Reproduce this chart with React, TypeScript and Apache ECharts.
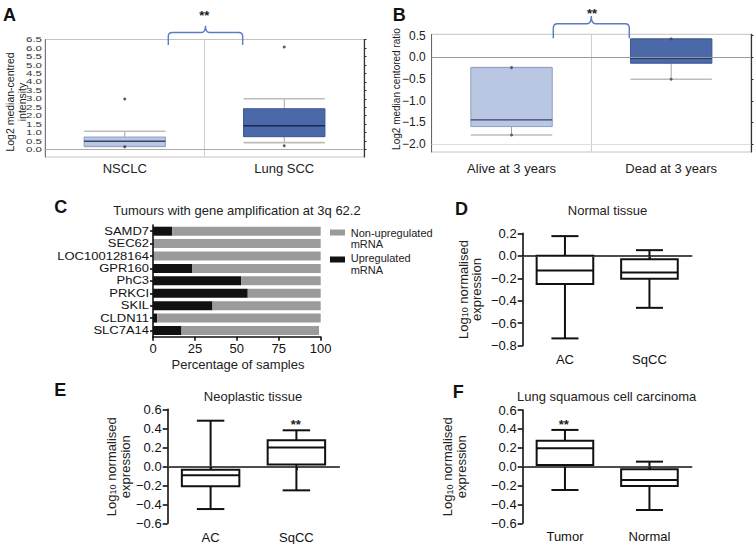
import React, { useEffect, useRef } from "react";
import * as echarts from "echarts";

const FONT = '"Liberation Sans", Arial, Helvetica, sans-serif';

// ---------- Panel A (Oncomine: NSCLC vs Lung SCC) ----------
const aCategories = ["NSCLC", "Lung SCC"];
// [lower whisker, Q1, median, Q3, upper whisker]
const aBoxes = [
  [0.19, 0.19, 0.49, 0.74, 1.08],
  [0.41, 0.76, 1.41, 2.41, 3.0],
];
const aMin = [0.16, 0.22];
const aMax = [2.99, 6.06];
const aTicks = [0, 0.5, 1, 1.5, 2, 2.5, 3, 3.5, 4, 4.5, 5, 5.5, 6, 6.5];

// ---------- Panel B (survival) ----------
const bCategories = ["Alive at 3 years", "Dead at 3 years"];
const bBoxes = [
  [-1.79, -1.595, -1.44, -0.237, -0.237],
  [-0.504, -0.136, -0.014, 0.424, 0.424],
];
const bMin = [-1.79, -0.504];
const bMax = [-0.237, 0.424];
const bTicks = [-2, -1.5, -1, -0.5, 0, 0.5];

// ---------- Panel C (stacked bars) ----------
const cGenes = ["SAMD7", "SEC62", "LOC100128164", "GPR160", "PhC3", "PRKCI", "SKIL", "CLDN11", "SLC7A14"];
const cUpregulated = [11.5, 0.5, 0.5, 23.5, 52.5, 56.5, 35.5, 2.5, 17];
const cNonUpregulated = [88.5, 99.5, 99.5, 76.5, 47.5, 43.5, 64.5, 97.5, 82];

// ---------- Panel D ----------
const dCategories = ["AC", "SqCC"];
const dBoxes = [
  [-0.735, -0.252, -0.13, 0.0, 0.175],
  [-0.463, -0.205, -0.148, -0.03, 0.05],
];

// ---------- Panel E ----------
const eCategories = ["AC", "SqCC"];
const eBoxes = [
  [-0.45, -0.21, -0.095, -0.035, 0.48],
  [-0.253, 0.018, 0.197, 0.274, 0.379],
];

// ---------- Panel F ----------
const fCategories = ["Tumor", "Normal"];
const fBoxes = [
  [-0.247, 0.018, 0.195, 0.275, 0.389],
  [-0.459, -0.204, -0.141, -0.028, 0.053],
];

echarts.graphic.registerShape(
  "brace",
  echarts.graphic.extendPath(
    "M0 20 L0 11 Q0 7 4 7 L33 7 Q37 7 37 0 Q37 7 41 7 L70 7 Q74 7 74 11 L74 20",
    {}
  )
);

const fmt1 = (v: number) =>
  Math.abs(v) < 1e-9 ? "0.0" : v.toFixed(1).replace("-", "\u2212");

type BoxStyle = {
  boxFrac: number;
  capFrac: number;
  fills: string[];
  strokes: string[];
  medians: string[];
  whisker: string;
  cap: string;
  lineWidth: number;
  capWidth: number;
  medianWidth: number;
};

function boxRenderer(o: BoxStyle) {
  return (params: any, api: any) => {
    const i = api.value(0);
    const pLow = api.coord([i, api.value(1)]);
    const pQ1 = api.coord([i, api.value(2)]);
    const pMed = api.coord([i, api.value(3)]);
    const pQ3 = api.coord([i, api.value(4)]);
    const pHigh = api.coord([i, api.value(5)]);
    const band = api.size([1, 0])[0];
    const cx = pMed[0];
    const bh = (band * o.boxFrac) / 2;
    const ch = (band * o.capFrac) / 2;
    const idx = params.dataIndex;
    const wl = { stroke: o.whisker, lineWidth: o.lineWidth };
    const cl = { stroke: o.cap, lineWidth: o.capWidth };
    return {
      type: "group",
      children: [
        { type: "line", shape: { x1: cx, y1: pHigh[1], x2: cx, y2: pQ3[1] }, style: wl },
        { type: "line", shape: { x1: cx, y1: pQ1[1], x2: cx, y2: pLow[1] }, style: wl },
        { type: "line", shape: { x1: cx - ch, y1: pHigh[1], x2: cx + ch, y2: pHigh[1] }, style: cl },
        { type: "line", shape: { x1: cx - ch, y1: pLow[1], x2: cx + ch, y2: pLow[1] }, style: cl },
        {
          type: "rect",
          shape: { x: cx - bh, y: pQ3[1], width: bh * 2, height: pQ1[1] - pQ3[1] },
          style: { fill: o.fills[idx], stroke: o.strokes[idx], lineWidth: o.lineWidth },
        },
        {
          type: "line",
          shape: { x1: cx - bh, y1: pMed[1], x2: cx + bh, y2: pMed[1] },
          style: { stroke: o.medians[idx], lineWidth: o.medianWidth },
        },
      ],
    };
  };
}

const oncoStyle: BoxStyle = {
  boxFrac: 0.51,
  capFrac: 0.51,
  fills: ["#b9c7e3", "#4b69a9"],
  strokes: ["#8f9fc4", "#3b5694"],
  medians: ["#34466f", "#1b2a50"],
  whisker: "#a5a5a5",
  cap: "#bdbdbd",
  lineWidth: 1,
  capWidth: 1.6,
  medianWidth: 1.4,
};

const prismStyle: BoxStyle = {
  boxFrac: 0.67,
  capFrac: 0.32,
  fills: ["#ffffff", "#ffffff"],
  strokes: ["#111", "#111"],
  medians: ["#111", "#111"],
  whisker: "#111",
  cap: "#111",
  lineWidth: 2,
  capWidth: 2,
  medianWidth: 2,
};

const toBoxData = (boxes: number[][]) => boxes.map((b, i) => [i, ...b]);
const toPoints = (mins: number[], maxs: number[]) => {
  const pts: number[][] = [];
  mins.forEach((v, i) => pts.push([i, v]));
  maxs.forEach((v, i) => pts.push([i, v]));
  return pts;
};

const txt = (text: string, x: number, y: number, extra: any = {}, styleExtra: any = {}) => ({
  type: "text",
  x,
  y,
  ...extra,
  style: {
    text,
    fontFamily: FONT,
    fontSize: 13,
    fill: "#222",
    align: "center",
    verticalAlign: "middle",
    ...styleExtra,
  },
});

const logRich = {
  n: { fontSize: 13, fontFamily: FONT, lineHeight: 13, fill: "#222" },
  s: { fontSize: 9, fontFamily: FONT, lineHeight: 6, verticalAlign: "bottom", fill: "#222" },
};
const logName = (x: number, y: number) =>
  txt("{n|Log}{s|10}{n| normalised}", x, y, { rotation: Math.PI / 2 }, { rich: logRich });

const prismXAxis = (gridIndex: number, data: string[], margin: number) => ({
  type: "category",
  gridIndex,
  data,
  axisLine: { show: true, lineStyle: { color: "#111", width: 1.6 } },
  axisTick: { show: true, alignWithLabel: true, length: 4, lineStyle: { color: "#111", width: 1.6 } },
  axisLabel: { fontSize: 13, color: "#111", margin, fontFamily: FONT, interval: 0 },
  splitLine: { show: false },
});

const prismYAxis = (gridIndex: number, min: number, max: number) => ({
  type: "value",
  gridIndex,
  min,
  max,
  interval: 0.2,
  axisLine: { show: true, lineStyle: { color: "#111", width: 1.6 } },
  axisTick: { show: true, length: 5, lineStyle: { color: "#111", width: 1.6 } },
  axisLabel: { fontSize: 13, color: "#111", margin: 6, fontFamily: FONT, formatter: fmt1, showMinLabel: true, showMaxLabel: true },
  splitLine: { show: false },
});

const zeroDotted = {
  silent: true,
  symbol: "none",
  label: { show: false },
  lineStyle: { color: "#555", width: 1, type: [1.5, 2] },
  emphasis: { disabled: true },
  data: [{ yAxis: 0 }],
};

const staticGraphics = [
  // panel letters
  txt("A", 3, 15, {}, { fontSize: 18, fontWeight: "bold", fill: "#111", align: "left" }),
  txt("B", 392.7, 15, {}, { fontSize: 18, fontWeight: "bold", fill: "#111", align: "left" }),
  txt("C", 54.3, 207.3, {}, { fontSize: 18, fontWeight: "bold", fill: "#111", align: "left" }),
  txt("D", 455, 209.3, {}, { fontSize: 18, fontWeight: "bold", fill: "#111", align: "left" }),
  txt("E", 54.3, 390, {}, { fontSize: 18, fontWeight: "bold", fill: "#111", align: "left" }),
  txt("F", 452.7, 391.7, {}, { fontSize: 18, fontWeight: "bold", fill: "#111", align: "left" }),
  // braces and stars
  { type: "brace", x: 168.3, y: 25.7, scaleX: 1.005, scaleY: 0.965, style: { stroke: "#5b7cc2", lineWidth: 1.4, fill: "none" } },
  { type: "brace", x: 553.3, y: 16, scaleX: 1.027, scaleY: 1.115, style: { stroke: "#5b7cc2", lineWidth: 1.4, fill: "none" } },
  txt("**", 204.3, 15.7, {}, { fontSize: 13, fontWeight: "bold", fill: "#222" }),
  txt("**", 592, 13, {}, { fontSize: 13, fontWeight: "bold", fill: "#222" }),
  txt("**", 295.7, 424.7, {}, { fontSize: 13, fontWeight: "bold", fill: "#222" }),
  txt("**", 563.7, 424.7, {}, { fontSize: 13, fontWeight: "bold", fill: "#222" }),
  // axis names A, B
  txt("Log2 median-centred", 10, 102, { rotation: Math.PI / 2 }, { fontSize: 10.5 }),
  txt("intensity", 21.5, 102, { rotation: Math.PI / 2 }, { fontSize: 10.5 }),
  txt("Log2 median centored ratio", 396, 89, { rotation: Math.PI / 2 }, { fontSize: 10 }),
  // panel C
  txt("Tumours with gene amplification at 3q 62.2", 237, 210),
  txt("Percentage of samples", 238, 364),
  { type: "rect", x: 330, y: 229.5, shape: { width: 15, height: 6 }, style: { fill: "#9b9b9b" } },
  { type: "rect", x: 330, y: 256.5, shape: { width: 15, height: 6 }, style: { fill: "#111" } },
  txt("Non-upregulated\nmRNA", 350.7, 227, {}, { fontSize: 11, lineHeight: 11.5, align: "left", verticalAlign: "top" }),
  txt("Upregulated\nmRNA", 350.7, 252.5, {}, { fontSize: 11, lineHeight: 11.5, align: "left", verticalAlign: "top" }),
  // titles D, E, F
  txt("Normal tissue", 607.5, 210),
  txt("Neoplastic tissue", 253, 396.7),
  txt("Lung squamous cell carcinoma", 606.7, 396.7),
  // axis names D, E, F
  logName(463, 289.5),
  txt("expression", 476.7, 289.5, { rotation: Math.PI / 2 }),
  logName(111.3, 466.7),
  txt("expression", 125.7, 466.7, { rotation: Math.PI / 2 }),
  logName(447.5, 466.7),
  txt("expression", 461.5, 466.7, { rotation: Math.PI / 2 }),
];

export default function App() {
  const ref = useRef<HTMLDivElement>(null);
  useEffect(() => {
    if (!ref.current) return;
    const chart = echarts.init(ref.current, null, { renderer: "svg" });
    const option: any = {
      animation: false,
      backgroundColor: "#ffffff",
      textStyle: { fontFamily: FONT },
      grid: [
        { left: 45, top: 39.5, width: 319, height: 117.5, show: true, borderColor: "#c4c4c4", borderWidth: 1, backgroundColor: "transparent", outerBoundsMode: "none" },
        { left: 431.7, top: 34.3, width: 319.3, height: 117.7, show: true, borderColor: "#c4c4c4", borderWidth: 1, backgroundColor: "transparent", outerBoundsMode: "none" },
        { left: 153, top: 225, width: 167.7, height: 111.7, outerBoundsMode: "none" },
        { left: 522.7, top: 233.3, width: 169, height: 112.4, outerBoundsMode: "none" },
        { left: 167.7, top: 409.3, width: 171.6, height: 114, outerBoundsMode: "none" },
        { left: 522.7, top: 410, width: 169, height: 113.3, outerBoundsMode: "none" },
      ],
      xAxis: [
        {
          type: "category",
          gridIndex: 0,
          data: aCategories,
          axisLine: { show: true, lineStyle: { color: "#666", width: 1 } },
          axisTick: { show: false },
          axisLabel: { fontSize: 13, color: "#222", margin: 4.5, fontFamily: FONT, interval: 0 },
          splitLine: { show: true, lineStyle: { color: "#cfcfcf", width: 1 } },
        },
        {
          type: "category",
          gridIndex: 1,
          data: bCategories,
          axisLine: { show: true, lineStyle: { color: "#555", width: 1.2 } },
          axisTick: { show: false },
          axisLabel: { fontSize: 13, color: "#222", margin: 9.5, fontFamily: FONT, interval: 0 },
          splitLine: { show: true, lineStyle: { color: "#cfcfcf", width: 1 } },
        },
        {
          type: "value",
          gridIndex: 2,
          min: 0,
          max: 100,
          interval: 25,
          axisLine: { show: true, lineStyle: { color: "#111", width: 1.6 } },
          axisTick: { show: true, length: 4, lineStyle: { color: "#111", width: 1.6 } },
          axisLabel: { fontSize: 13, color: "#111", margin: 5, fontFamily: FONT, showMinLabel: true, showMaxLabel: true },
          splitLine: { show: false },
        },
        prismXAxis(3, dCategories, 7),
        prismXAxis(4, eCategories, 7.5),
        prismXAxis(5, fCategories, 6.5),
      ],
      yAxis: [
        {
          type: "value",
          gridIndex: 0,
          min: -0.44,
          max: 6.5,
          axisLine: { show: true, lineStyle: { color: "#777", width: 1 } },
          axisTick: { show: false },
          axisLabel: { show: false },
          splitLine: { show: false },
        },
        {
          type: "value",
          gridIndex: 1,
          min: -2.18,
          max: 0.53,
          axisLine: { show: true, lineStyle: { color: "#666", width: 1 } },
          axisTick: { show: false, customValues: bTicks },
          axisLabel: { fontSize: 12, color: "#222", margin: 6, fontFamily: FONT, customValues: bTicks, formatter: fmt1, showMinLabel: true, showMaxLabel: true },
          splitLine: { show: false },
        },
        {
          type: "category",
          gridIndex: 2,
          data: cGenes,
          inverse: true,
          axisLine: { show: true, lineStyle: { color: "#111", width: 1.6 } },
          axisTick: { show: true, alignWithLabel: true, interval: 0, length: 3, lineStyle: { color: "#111", width: 1.6 } },
          axisLabel: { show: false },
          splitLine: { show: false },
        },
        prismYAxis(3, -0.8, 0.2),
        prismYAxis(4, -0.6, 0.6),
        prismYAxis(5, -0.6, 0.6),
        {
          type: "value",
          gridIndex: 0,
          position: "right",
          min: -0.44,
          max: 6.5,
          axisLine: { show: true, lineStyle: { color: "#333", width: 1.2 } },
          axisTick: { show: true, length: 2.5, customValues: aTicks, lineStyle: { color: "#333" } },
          axisLabel: { show: false },
          splitLine: { show: false },
        },
        {
          type: "value",
          gridIndex: 1,
          position: "right",
          min: -2.18,
          max: 0.53,
          axisLine: { show: true, lineStyle: { color: "#333", width: 1.2 } },
          axisTick: { show: true, length: 2.5, customValues: bTicks, lineStyle: { color: "#333" } },
          axisLabel: { show: false },
          splitLine: { show: false },
        },
      ],
      series: [
        {
          type: "custom",
          xAxisIndex: 0,
          yAxisIndex: 0,
          renderItem: boxRenderer(oncoStyle),
          encode: { x: 0, y: [1, 2, 3, 4, 5] },
          data: toBoxData(aBoxes),
          silent: true,
        },
        {
          type: "scatter",
          xAxisIndex: 0,
          yAxisIndex: 0,
          symbolSize: 3,
          itemStyle: { color: "#333" },
          data: toPoints(aMin, aMax),
          silent: true,
          z: 3,
          markLine: {
            silent: true,
            symbol: "none",
            label: { show: false },
            lineStyle: { color: "#aaa", width: 1, type: "solid" },
            emphasis: { disabled: true },
            data: [{ yAxis: 0 }],
          },
        },
        {
          type: "custom",
          xAxisIndex: 1,
          yAxisIndex: 1,
          renderItem: boxRenderer(oncoStyle),
          encode: { x: 0, y: [1, 2, 3, 4, 5] },
          data: toBoxData(bBoxes),
          silent: true,
        },
        {
          type: "scatter",
          xAxisIndex: 1,
          yAxisIndex: 1,
          symbolSize: 3,
          itemStyle: { color: "#444" },
          data: toPoints(bMin, bMax),
          silent: true,
          z: 3,
          markLine: {
            silent: true,
            symbol: "none",
            label: { show: false },
            emphasis: { disabled: true },
            data: [
              { yAxis: 0, lineStyle: { color: "#9a9a9a", width: 1.2, type: "solid" } },
              { yAxis: -2, lineStyle: { color: "#dddddd", width: 1, type: "solid" } },
            ],
          },
        },
        {
          type: "bar",
          name: "Upregulated mRNA",
          stack: "c",
          xAxisIndex: 2,
          yAxisIndex: 2,
          barWidth: 9,
          itemStyle: { color: "#111" },
          data: cUpregulated,
          silent: true,
        },
        {
          type: "bar",
          name: "Non-upregulated mRNA",
          stack: "c",
          xAxisIndex: 2,
          yAxisIndex: 2,
          barWidth: 9,
          itemStyle: { color: "#9b9b9b" },
          data: cNonUpregulated,
          silent: true,
        },
        {
          type: "custom",
          xAxisIndex: 3,
          yAxisIndex: 3,
          renderItem: boxRenderer(prismStyle),
          encode: { x: 0, y: [1, 2, 3, 4, 5] },
          data: toBoxData(dBoxes),
          silent: true,
          markLine: zeroDotted,
        },
        {
          type: "custom",
          xAxisIndex: 4,
          yAxisIndex: 4,
          renderItem: boxRenderer(prismStyle),
          encode: { x: 0, y: [1, 2, 3, 4, 5] },
          data: toBoxData(eBoxes),
          silent: true,
          markLine: zeroDotted,
        },
        {
          type: "custom",
          xAxisIndex: 5,
          yAxisIndex: 5,
          renderItem: boxRenderer(prismStyle),
          encode: { x: 0, y: [1, 2, 3, 4, 5] },
          data: toBoxData(fBoxes),
          silent: true,
          markLine: zeroDotted,
        },
      ],
    };
    chart.setOption(option);
    // Panel A tick labels: condensed text placed through the y axis scale
    const aLabels = aTicks.map((v) => {
      const y = chart.convertToPixel({ yAxisIndex: 0 }, v) as unknown as number;
      return txt(fmt1(v), 42, y, { scaleY: 0.64 }, { fontSize: 11.5, fill: "#333", align: "right" });
    });
    // Panel C gene labels: placed through the category axis scale
    const cLabels = cGenes.map((g) => {
      const y = chart.convertToPixel({ yAxisIndex: 2 }, g) as unknown as number;
      return txt(g, 149, y, { scaleY: 0.82 }, { fontSize: 13, fill: "#111", align: "right" });
    });
    chart.setOption({ graphic: [...staticGraphics, ...aLabels, ...cLabels] });
    return () => chart.dispose();
  }, []);
  return (
    <div
      ref={ref}
      style={{ position: "fixed", left: 0, top: 0, width: 754, height: 544, background: "#fff" }}
    />
  );
}
